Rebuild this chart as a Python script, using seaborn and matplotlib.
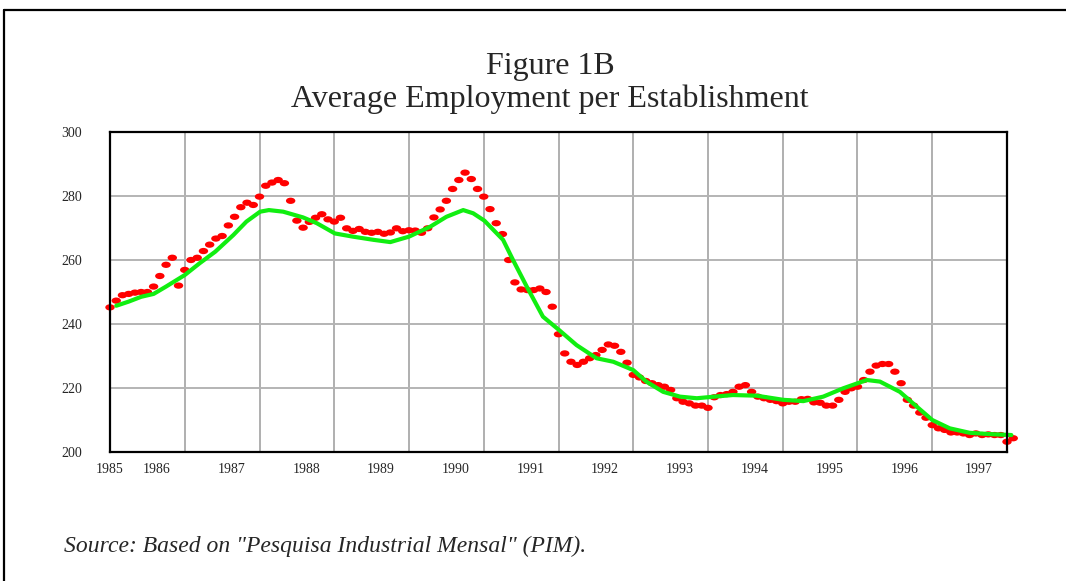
import numpy as np
import pandas as pd
import matplotlib
matplotlib.use('Agg')
import matplotlib.pyplot as plt
import seaborn as sns
from matplotlib.path import Path
from matplotlib.transforms import Affine2D
from matplotlib.lines import Line2D

# ── Data ──────────────────────────────────────────────────────
# monthly observations, index 0 = first point on the left axis
employment = [
    245.2, 247.3, 249.0, 249.4, 249.8, 250.0, 250.0, 251.7, 255.0, 258.5,
    260.7, 252.0, 256.9, 260.0, 260.7, 262.8, 264.8, 266.7, 267.5, 270.8,
    273.5, 276.5, 277.9, 277.2, 279.8, 283.2, 284.2, 285.0, 284.0, 278.5,
    272.3, 270.1, 271.9, 273.2, 274.3, 272.7, 272.0, 273.2, 269.9, 269.1,
    269.7, 268.8, 268.5, 268.8, 268.2, 268.6, 269.9, 269.0, 269.3, 269.2,
    268.5, 269.9, 273.3, 275.8, 278.5, 282.2, 285.0, 287.3, 285.3, 282.2,
    279.8, 275.9, 271.5, 268.1, 260.0, 253.0, 250.8, 250.6, 250.6, 251.1,
    250.0, 245.4, 236.8, 230.8, 228.2, 227.2, 228.2, 229.3, 230.3, 231.9,
    233.6, 233.2, 231.3, 227.9, 224.1, 223.3, 222.2, 221.5, 220.9, 220.4,
    219.4, 216.8, 215.7, 215.2, 214.5, 214.5, 213.8, 217.1, 217.8, 218.1,
    218.8, 220.4, 220.9, 218.8, 217.3, 216.8, 216.3, 215.9, 215.2, 215.7,
    215.7, 216.5, 216.6, 215.5, 215.4, 214.5, 214.5, 216.3, 218.8, 219.9,
    220.4, 222.5, 225.1, 227.0, 227.5, 227.5, 225.1, 221.5, 216.3, 214.5,
    212.3, 210.7, 208.4, 207.4, 206.9, 206.1, 206.1, 205.8, 205.3, 205.8,
    205.3, 205.5, 205.3, 205.3, 203.2, 204.3,
]
months = list(range(len(employment)))

# smoothed trend (green line), read at these month positions
trend_month = [1, 3, 5, 7, 9, 12, 14.4, 16.9, 19.8, 21.9, 24.1, 25.5, 27.8,
               31, 33.2, 36.1, 39, 42.3, 45, 48, 51.4, 54, 56.7, 58.3, 60.1,
               63.1, 64.7, 66.9, 69.5, 72.1, 74.9, 78.1, 80.8, 84, 86.1, 88.8,
               91.5, 94.2, 97, 100, 103.8, 108.1, 111.3, 114.5, 117.7, 121.5,
               123.6, 126.8, 129.5, 132, 134.8, 138, 141.2, 144.7]
trend_value = [245.7, 247.0, 248.5, 249.4, 251.7, 255.3, 259.0, 262.6, 267.8,
               272.0, 275.1, 275.6, 275.1, 273.3, 271.5, 268.3, 267.3, 266.3,
               265.6, 267.3, 270.4, 273.5, 275.6, 274.6, 272.3, 266.3, 260.0,
               251.7, 242.3, 238.1, 233.4, 229.3, 228.2, 225.6, 222.0, 218.8,
               217.3, 216.8, 217.3, 217.8, 217.6, 216.3, 215.9, 217.3, 219.9,
               222.5, 222.0, 218.8, 214.2, 210.0, 207.4, 206.0, 205.6, 205.3]

year_labels = ['1985', '1986', '1987', '1988', '1989', '1990', '1991',
               '1992', '1993', '1994', '1995', '1996', '1997']
year_label_pos = [0, 7.5, 19.5, 31.5, 43.5, 55.5, 67.5, 79.5, 91.5,
                  103.5, 115.5, 127.5, 139.5]
grid_months = list(range(12, 144, 12))
y_ticks = [200, 220, 240, 260, 280, 300]

obs = pd.DataFrame({'month': months, 'value': employment})
trend = pd.DataFrame({'month': trend_month, 'value': trend_value})

# ── Style ─────────────────────────────────────────────────────
sns.set_style('white')
plt.rcParams['font.family'] = ['Liberation Serif', 'DejaVu Serif']

fig = plt.figure(figsize=(10.66, 5.81), dpi=100)
ax = fig.add_axes([110 / 1066, 1 - 452 / 581, 897 / 1066, 320 / 581])

# oval dot marker
oval = Path.unit_circle().transformed(Affine2D().scale(1.5, 1.0))

sns.scatterplot(data=obs, x='month', y='value', ax=ax, marker=oval,
                s=46, color='#ff0000', edgecolor='none', linewidth=0,
                zorder=3, clip_on=False, legend=False)
sns.lineplot(data=trend, x='month', y='value', ax=ax, color='#11ee11',
             linewidth=3.0, zorder=4, sort=False, legend=False)
ax.lines[-1].set_clip_on(False)

ax.set_xlim(0, 144)
ax.set_ylim(200, 300)

# grid
for m in grid_months:
    ax.axvline(m, color='#9a9a9a', linewidth=1.1, zorder=1)
for v in y_ticks[1:-1]:
    ax.axhline(v, color='#b4b4b4', linewidth=1.4, zorder=1)

ax.set_xticks(year_label_pos)
ax.set_xticklabels(year_labels, fontsize=10)
ax.set_yticks(y_ticks)
ax.set_yticklabels([str(t) for t in y_ticks], fontsize=10)
ax.tick_params(axis='both', length=0)
ax.tick_params(axis='x', pad=8)
ax.tick_params(axis='y', pad=20)
ax.set_xlabel('')
ax.set_ylabel('')

for side in ['left', 'bottom', 'top', 'right']:
    ax.spines[side].set_visible(True)
    ax.spines[side].set_color('black')
    ax.spines[side].set_linewidth(1.6)
    ax.spines[side].set_zorder(5)

# titles
fig.text(0.516, 1 - 74 / 581, 'Figure 1B', ha='center', va='baseline',
         fontsize=23)
fig.text(0.516, 1 - 107 / 581, 'Average Employment per Establishment',
         ha='center', va='baseline', fontsize=23)

fig.text(64 / 1066, 1 - 546 / 581,
         'Source: Based on "Pesquisa Industrial Mensal" (PIM).',
         ha='left', va='center', fontsize=17, style='italic')

# outer frame (left and top edges)
fig.add_artist(Line2D([4 / 1066, 4 / 1066], [0, 1 - 10 / 581],
                      transform=fig.transFigure, color='black', linewidth=1.6))
fig.add_artist(Line2D([4 / 1066, 1], [1 - 10 / 581, 1 - 10 / 581],
                      transform=fig.transFigure, color='black', linewidth=1.6))

fig.savefig('out.png', dpi=100, facecolor='white')
